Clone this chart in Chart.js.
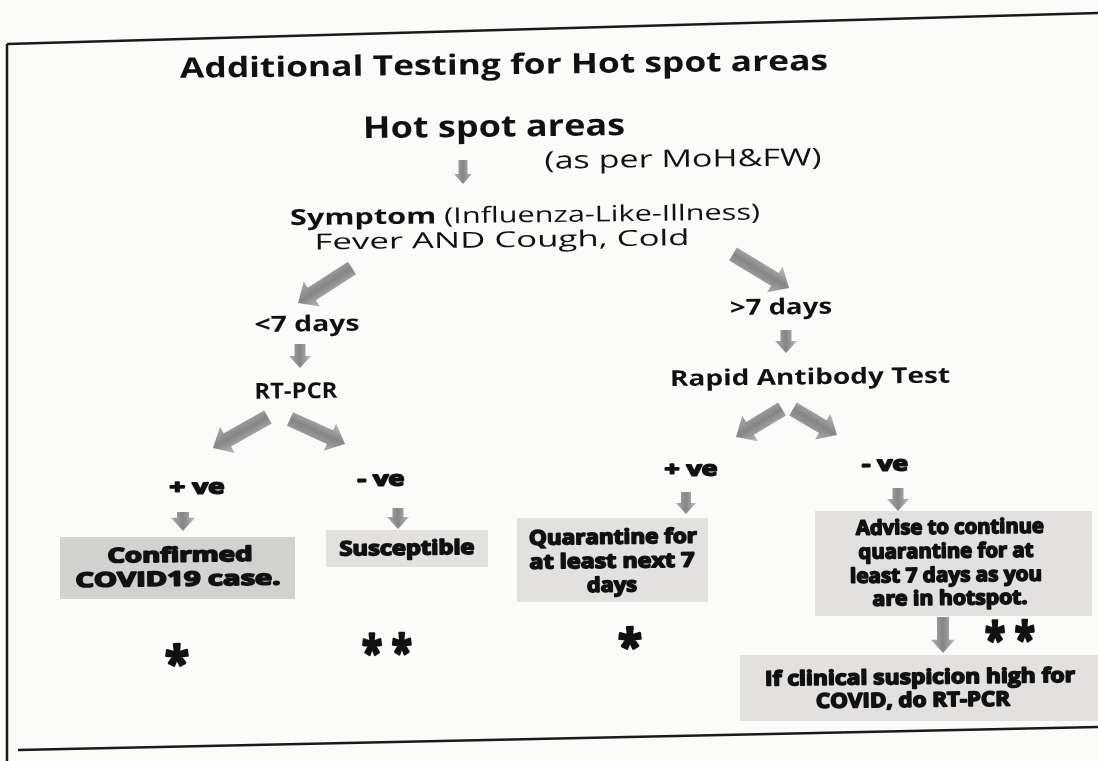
<!DOCTYPE html>
<html>
<head>
<meta charset="utf-8">
<script src="https://cdn.jsdelivr.net/npm/chart.js@4.4.1/dist/chart.umd.min.js"></script>
<style>
  html, body { margin: 0; padding: 0; background: #fbfbfa; }
  #wrap { width: 1098px; height: 761px; }
</style>
</head>
<body>
<div id="wrap"><canvas id="flujo" width="1098" height="761"></canvas></div>
<script>
// Hot spot testing flow - texts and links

const headings = ['Additional Testing for Hot spot areas', 'Hot spot areas', '(as per MoH&FW)'];
const symptomLines = [['Symptom', ' (Influenza-Like-Illness)'], ['Fever AND Cough, Cold']];
const branchLabels = ['<7 days', '>7 days', 'RT-PCR', 'Rapid Antibody Test'];
const resultLabels = ['+ ve', '- ve', '+ ve', '- ve'];
const boxTexts = [
  ['Confirmed', 'COVID19 case.'],
  ['Susceptible'],
  ['Quarantine for', 'at least next 7', 'days'],
  ['Advise to continue', 'quarantine for at', 'least 7 days as you', 'are in hotspot.'],
  ['If clinical suspicion high for', 'COVID, do RT-PCR']
];
const notes = ['*', '* *', '*', '* *'];

// layout (x, y in picture units)
const posHeadings = [[504, 66, 648, 28, 'bold'], [494, 128, 262, 30, 'bold'], [683, 160, 277, 24, 'normal']];
const posSymptom = [[525, 216, 470, 22], [502, 241, 375, 22]];
const posBranch = [[307, 325, 105], [781, 308, 102], [296, 392, 83], [810, 378, 280]];
const posResult = [[197, 488, 55], [381, 480, 47], [691, 470, 53], [885, 465, 46]];
const boxRects = [[60, 537, 295, 599], [326, 530, 488, 567], [517, 518, 708, 602], [815, 511, 1092, 616], [740, 655, 1098, 721]];
const boxLinePos = [
  [[180, 556, 145], [178, 580, 205]],
  [[407, 549, 135]],
  [[613, 538, 168], [612, 562, 165], [612, 586, 50]],
  [[950, 528, 188], [946, 552, 175], [946, 576, 192], [950, 599, 155]],
  [[920, 678, 310], [913, 701, 194]]
];
const posNotes = [[177, 657, 24], [387, 646, 50], [630, 640, 24], [1010, 633, 50]];
const arrows = [
  // x1, y1, x2, y2, shaft, head
  [463, 160, 463, 184, 9, 18],
  [352, 268, 298, 303, 15, 30],
  [733, 254, 789, 288, 15, 30],
  [300, 344, 300, 368, 11, 22],
  [786, 330, 786, 353, 11, 22],
  [268, 417, 213, 448, 15, 30],
  [290, 419, 345, 444, 15, 30],
  [782, 409, 736, 437, 15, 30],
  [793, 409, 837, 435, 15, 30],
  [183, 512, 183, 531, 12, 24],
  [398, 508, 398, 529, 11, 22],
  [686, 492, 686, 514, 10, 20],
  [898, 488, 898, 511, 11, 22],
  [943, 617, 943, 653, 12, 24]
];
const frame = [[7, 44, 1098, 13], [7, 44, 7, 761], [18, 750, 1098, 727]];

const FONT = '"Open Sans", "Lato", sans-serif';
const HEAVY = '"Open Sans", "Lato", sans-serif';
const TILT = -0.012;

function textFit(ctx, txt, cx, cy, w, size, weight, family, heavy) {
  ctx.save();
  ctx.font = weight + ' ' + size + 'px ' + family;
  const m = ctx.measureText(txt).width;
  ctx.translate(cx, cy);
  ctx.rotate(TILT);
  ctx.scale(w ? w / m : 1, 1);
  ctx.textAlign = 'center';
  ctx.textBaseline = 'middle';
  ctx.fillStyle = '#111';
  ctx.fillText(txt, 0, 0);
  if (heavy) {
    ctx.strokeStyle = '#111';
    ctx.lineWidth = heavy;
    ctx.lineJoin = 'round';
    ctx.strokeText(txt, 0, 0);
  }
  ctx.restore();
}

function blockArrow(ctx, x1, y1, x2, y2, shaft, head) {
  const ang = Math.atan2(y2 - y1, x2 - x1);
  const len = Math.hypot(x2 - x1, y2 - y1);
  const hl = head * 0.55;
  ctx.save();
  ctx.translate(x1, y1);
  ctx.rotate(ang);
  ctx.beginPath();
  ctx.moveTo(0, -shaft / 2);
  ctx.lineTo(len - hl, -shaft / 2);
  ctx.lineTo(len - hl, -head / 2);
  ctx.lineTo(len, 0);
  ctx.lineTo(len - hl, head / 2);
  ctx.lineTo(len - hl, shaft / 2);
  ctx.lineTo(0, shaft / 2);
  ctx.closePath();
  const g = ctx.createLinearGradient(0, -head / 2, 0, head / 2);
  g.addColorStop(0, '#bdbdbd');
  g.addColorStop(0.5, '#858585');
  g.addColorStop(1, '#adadad');
  ctx.fillStyle = g;
  ctx.fill();
  ctx.restore();
}

const flowPlugin = {
  id: 'flowPlugin',
  afterDatasetsDraw(chart) {
    const ctx = chart.ctx;
    const sx = chart.scales.x, sy = chart.scales.y;
    const px = v => sx.getPixelForValue(v);
    const py = v => sy.getPixelForValue(v);

    // marco
    ctx.save();
    ctx.strokeStyle = '#1a1a1a';
    ctx.lineWidth = 2.5;
    frame.forEach(f => {
      ctx.beginPath();
      ctx.moveTo(px(f[0]), py(f[1]));
      ctx.lineTo(px(f[2]), py(f[3]));
      ctx.stroke();
    });
    ctx.restore();

    // cajas
    boxRects.forEach((b, i) => {
      ctx.save();
      ctx.fillStyle = i === 0 ? '#d2d2d0' : '#e2e1df';
      ctx.fillRect(px(b[0]), py(b[1]), px(b[2]) - px(b[0]), py(b[3]) - py(b[1]));
      ctx.restore();
    });

    arrows.forEach(a => blockArrow(ctx, px(a[0]), py(a[1]), px(a[2]), py(a[3]), a[4], a[5]));

    headings.forEach((t, i) => {
      const p = posHeadings[i];
      textFit(ctx, t, px(p[0]), py(p[1]), p[2], p[3], p[4], FONT);
    });

    // linea de sintoma con parte en negrita
    const s0 = posSymptom[0];
    ctx.save();
    ctx.font = 'bold 22px ' + FONT;
    const wb = ctx.measureText(symptomLines[0][0]).width;
    ctx.font = 'normal 22px ' + FONT;
    const wn = ctx.measureText(symptomLines[0][1]).width;
    const k = s0[2] / (wb + wn);
    ctx.translate(px(s0[0]), py(s0[1]));
    ctx.rotate(TILT);
    ctx.scale(k, 1);
    ctx.textBaseline = 'middle';
    ctx.fillStyle = '#111';
    ctx.textAlign = 'left';
    ctx.font = 'bold 22px ' + FONT;
    ctx.fillText(symptomLines[0][0], -(wb + wn) / 2, 0);
    ctx.font = 'normal 22px ' + FONT;
    ctx.fillText(symptomLines[0][1], -(wb + wn) / 2 + wb, 0);
    ctx.restore();
    const s1 = posSymptom[1];
    textFit(ctx, symptomLines[1][0], px(s1[0]), py(s1[1]), s1[2], s1[3], 'normal', FONT);

    branchLabels.forEach((t, i) => {
      const p = posBranch[i];
      textFit(ctx, t, px(p[0]), py(p[1]), p[2], 22, 'bold', FONT);
    });
    resultLabels.forEach((t, i) => {
      const p = posResult[i];
      textFit(ctx, t, px(p[0]), py(p[1]), p[2], 20, 'bold', HEAVY, 1.6);
    });
    boxTexts.forEach((lines, i) => {
      lines.forEach((t, j) => {
        const p = boxLinePos[i][j];
        textFit(ctx, t, px(p[0]), py(p[1]), p[2], 20, 'bold', HEAVY, 1.6);
      });
    });
    notes.forEach((t, i) => {
      const p = posNotes[i];
      textFit(ctx, t, px(p[0]), py(p[1]) + 9, p[2], 46, 'bold', HEAVY, 2.5);
    });
  }
};

const anchorPoints = posHeadings.concat(posBranch, posResult, posNotes).map(p => ({ x: p[0], y: p[1] }));

new Chart(document.getElementById('flujo').getContext('2d'), {
  type: 'scatter',
  data: {
    datasets: [{
      label: 'nodos',
      data: anchorPoints,
      pointRadius: 0,
      pointHoverRadius: 0
    }]
  },
  options: {
    responsive: false,
    animation: false,
    layout: { padding: 0 },
    plugins: { legend: { display: false }, tooltip: { enabled: false } },
    scales: {
      x: { type: 'linear', min: 0, max: 1098, display: false },
      y: { type: 'linear', min: 0, max: 761, reverse: true, display: false }
    }
  },
  plugins: [flowPlugin]
});
</script>
</body>
</html>
